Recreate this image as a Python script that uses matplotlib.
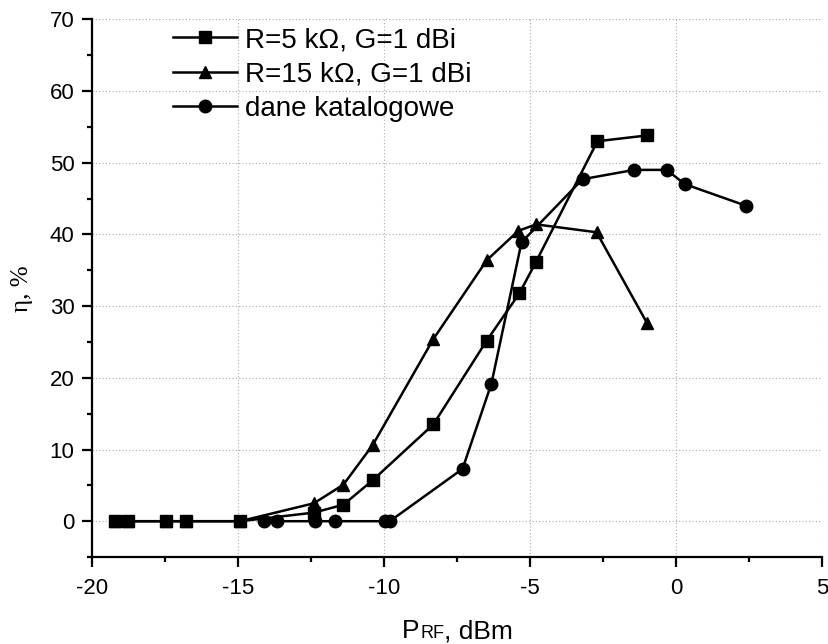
import matplotlib
matplotlib.use('Agg')
import matplotlib.pyplot as plt
from matplotlib.ticker import MultipleLocator

plt.rcParams['font.family'] = ['Liberation Sans', 'DejaVu Sans']
plt.rcParams['axes.unicode_minus'] = False

# R=5 kOhm, G=1 dBi
x_r5 = [-19.2, -18.76, -17.47, -16.78, -14.93, -12.4, -11.39, -10.39, -8.31, -6.48, -5.36, -4.79, -2.69, -1.0]
y_r5 = [0, 0, 0, 0, 0, 1.2, 2.3, 5.7, 13.5, 25.2, 31.8, 36.2, 53.0, 53.8]

# R=15 kOhm, G=1 dBi
x_r15 = [-19.2, -18.76, -17.47, -16.78, -14.93, -12.4, -11.39, -10.39, -8.31, -6.48, -5.40, -4.79, -2.72, -1.0]
y_r15 = [0, 0, 0, 0, 0, 2.5, 5.1, 10.6, 25.4, 36.4, 40.5, 41.4, 40.3, 27.7]

# dane katalogowe
x_kat = [-14.1, -13.68, -12.37, -11.68, -9.95, -9.8, -7.31, -6.32, -5.29, -3.20, -1.43, -0.32, 0.31, 2.40]
y_kat = [0, 0, 0, 0, 0, 0, 7.3, 19.2, 38.9, 47.7, 49.0, 49.0, 47.0, 44.0]

fig = plt.figure(figsize=(8.29, 6.44), dpi=100)
ax = fig.add_axes([0.111, 0.135, 0.8805, 0.835])

kw = dict(color='black', linewidth=1.8)
ax.plot(x_r5, y_r5, marker='s', markersize=8, label='R=5 k\u03a9, G=1 dBi', **kw)
ax.plot(x_r15, y_r15, marker='^', markersize=9, label='R=15 k\u03a9, G=1 dBi', **kw)
ax.plot(x_kat, y_kat, marker='o', markersize=9, label='dane katalogowe', **kw)

ax.set_xlim(-20, 5)
ax.set_ylim(-5, 70)
ax.xaxis.set_major_locator(MultipleLocator(5))
ax.xaxis.set_minor_locator(MultipleLocator(2.5))
ax.yaxis.set_major_locator(MultipleLocator(10))
ax.yaxis.set_minor_locator(MultipleLocator(5))

ax.grid(True, which='major', color='#aaaaaa', linestyle=(0, (1, 2)), linewidth=0.8)
ax.set_axisbelow(True)

for s in ['top', 'right']:
    ax.spines[s].set_visible(False)
for s in ['left', 'bottom']:
    ax.spines[s].set_linewidth(1.6)

ax.tick_params(which='major', direction='out', length=7.2, width=1.6, labelsize=16)
ax.tick_params(axis='x', which='major', pad=8)
ax.tick_params(axis='y', which='major', pad=5.5)
ax.tick_params(which='minor', direction='out', length=3.6, width=1.6)

ax.set_ylabel('\u03b7, %', fontsize=18, family=['Liberation Serif', 'DejaVu Serif'], labelpad=12)

ax.legend(loc='upper left', bbox_to_anchor=(0.2087, 0.958), bbox_transform=fig.transFigure,
          frameon=False, fontsize=20, handlelength=2.3, handletextpad=0.3, labelspacing=0.3,
          borderaxespad=0, borderpad=0)

# x label: "P" with smaller "RF" on the same baseline
y_base = 6 / 644
t_p = fig.text(402 / 829, y_base, 'P', fontsize=19, va='baseline', ha='left')
fig.canvas.draw()
r = fig.canvas.get_renderer()
x1 = t_p.get_window_extent(r).x1
t_rf = fig.text(x1 / 829 + 0.001, y_base, 'RF', fontsize=13, va='baseline', ha='left')
fig.canvas.draw()
x2 = t_rf.get_window_extent(r).x1
fig.text(x2 / 829, y_base, ', dBm', fontsize=19, va='baseline', ha='left')

fig.savefig('out.png', dpi=100)
plt.close(fig)
